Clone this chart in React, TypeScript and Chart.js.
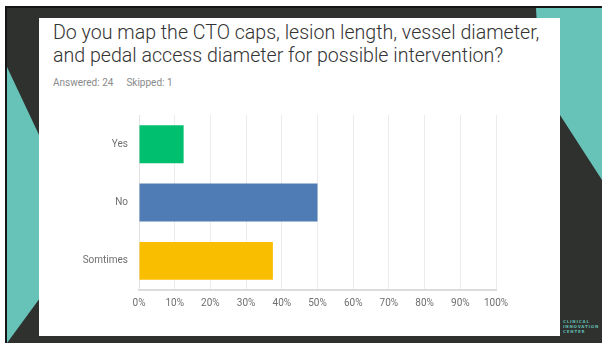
import React, { useEffect, useRef } from 'react';
import { Chart, registerables } from 'chart.js';

Chart.register(...registerables);

const categories = ['Yes', 'No', 'Somtimes'];
const percentages = [12.5, 50, 37.5];
const barColors = ['#00bf6f', '#507cb6', '#f9be00'];
const xTickValues = [0, 10, 20, 30, 40, 50, 60, 70, 80, 90, 100];
const xTickLabels = ['0%', '10%', '20%', '30%', '40%', '50%', '60%', '70%', '80%', '90%', '100%'];
const titleLines = [
  'Do you map the CTO caps, lesion length, vessel diameter,',
  'and pedal access diameter for possible intervention?',
];
const answeredText = 'Answered: 24';
const skippedText = 'Skipped: 1';
const logoLines = ['CLINICAL', 'INNOVATION', 'CENTER'];

const TEAL = '#67c2b8';
const DARK = '#2f312e';

export default function App() {
  const ref = useRef<HTMLCanvasElement>(null);

  useEffect(() => {
    document.body.style.margin = '0';
    const chart = new Chart(ref.current as HTMLCanvasElement, {
      type: 'bar',
      data: {
        labels: categories,
        datasets: [
          {
            data: percentages,
            backgroundColor: barColors,
            borderWidth: 0,
            barPercentage: 0.65,
            categoryPercentage: 1,
          },
        ],
      },
      options: {
        indexAxis: 'y',
        animation: false,
        responsive: false,
        maintainAspectRatio: false,
        layout: { padding: { top: 3, right: 24, left: 0, bottom: 0 } },
        plugins: { legend: { display: false }, tooltip: { enabled: false } },
        scales: {
          x: {
            min: xTickValues[0],
            max: xTickValues[xTickValues.length - 1],
            afterBuildTicks: (s: any) => {
              s.ticks = xTickValues.map((v) => ({ value: v }));
            },
            ticks: {
              callback: (v: any) => xTickLabels[xTickValues.indexOf(Number(v))],
              color: '#6f6f6f',
              font: { family: 'Roboto', size: 10 },
              padding: 7,
              maxRotation: 0,
            },
            grid: { color: '#ececec', drawTicks: false, lineWidth: 1 },
            border: { color: '#dcdcdc', width: 2 },
            afterFit: (s: any) => {
              s.height = 30;
            },
          },
          y: {
            ticks: {
              color: '#6f6f6f',
              font: { family: 'Roboto', size: 10 },
              padding: 11,
            },
            grid: { display: false, drawTicks: false },
            border: { color: '#e2e2e2', width: 1 },
            afterFit: (s: any) => {
              s.width = 79;
            },
          },
        },
      },
    });
    return () => chart.destroy();
  }, []);

  return (
    <div style={{ position: 'fixed', left: 0, top: 0, width: 602, height: 343, background: '#fff', overflow: 'hidden' }}>
      <svg width={602} height={343} style={{ position: 'absolute', left: 0, top: 0 }}>
        <rect x={5} y={6} width={597} height={337} fill="#141514" />
        <rect x={7} y={8} width={595} height={335} fill={DARK} />
        <polygon points="7,67 40,137 40,298 7,343" fill={TEAL} />
        <polygon points="536,8 602,8 602,180 560,115 540,85" fill={TEAL} />
        <rect x={493} y={333} width={1} height={3} fill={TEAL} />
      </svg>
      <div style={{ position: 'absolute', left: 39, top: 18, width: 521, height: 318, background: '#fff' }} />
      <div
        style={{
          position: 'absolute',
          left: 53,
          top: 21,
          fontFamily: 'Roboto',
          fontWeight: 300,
          fontSize: 19.6,
          lineHeight: '23px',
          color: '#333',
          whiteSpace: 'nowrap',
        }}
      >
        {titleLines.map((l, i) => (
          <div key={i}>{l}</div>
        ))}
      </div>
      <div
        style={{
          position: 'absolute',
          left: 53,
          top: 77,
          fontFamily: 'Roboto',
          fontSize: 10,
          color: '#8a8a8a',
          whiteSpace: 'nowrap',
        }}
      >
        <span>{answeredText}</span>
        <span style={{ marginLeft: 13 }}>{skippedText}</span>
      </div>
      <canvas ref={ref} width={460} height={222} style={{ position: 'absolute', left: 60, top: 98, width: 460, height: 222 }} />
      <div
        style={{
          position: 'absolute',
          left: 563,
          top: 319,
          fontFamily: 'DejaVu Sans',
          fontWeight: 700,
          fontSize: 4,
          lineHeight: '5px',
          letterSpacing: 0.8,
          color: '#5fb8ab',
          whiteSpace: 'nowrap',
        }}
      >
        {logoLines.map((l, i) => (
          <div key={i}>{l}</div>
        ))}
      </div>
    </div>
  );
}
